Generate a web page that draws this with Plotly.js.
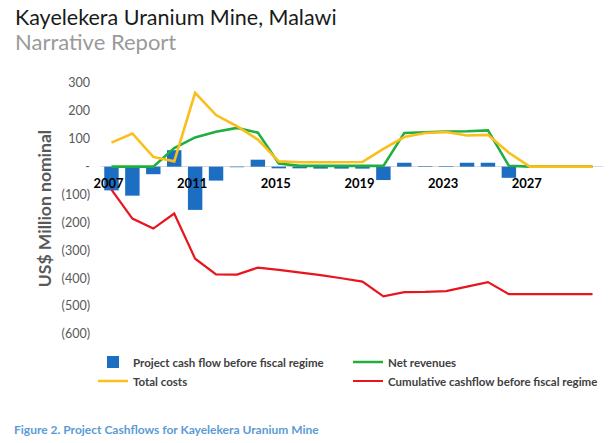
<!DOCTYPE html>
<html>
<head>
<meta charset="utf-8">
<script src="https://cdn.plot.ly/plotly-3.0.1.min.js"></script>
<style>
  html, body { margin: 0; padding: 0; background: #ffffff; }
  #chart { width: 611px; height: 443px; }
</style>
</head>
<body>
<div id="chart"></div>
<script>
// ---- Data (US$ million nominal) ----
var years = [2007, 2008, 2009, 2010, 2011, 2012, 2013, 2014, 2015, 2016, 2017, 2018,
             2019, 2020, 2021, 2022, 2023, 2024, 2025, 2026, 2027, 2028, 2029, 2030];
var projectCashFlow = [-85, -104, -27, 59, -155, -50, -2, 25, -6, -6, -7, -7,
                       -7, -48, 14, 2, 2, 14, 14, -40, 0, 0, 0, 0];
var netRevenues = [0, 0, 0, 67, 105, 125, 139, 122, 11, 3, 3, 3,
                   3, 3, 121, 124, 126, 127, 130, 3, 0, 0, 0, 0];
var totalCosts = [86, 119, 35, 19, 265, 185, 145, 97, 19, 16, 16, 16,
                  17, 64, 106, 121, 124, 112, 114, 50, 0, 0, 0, 0];
var cumulativeCashflow = [-82, -186, -222, -168, -330, -386, -387, -362, -370, -379, -389, -400,
                          -412, -465, -450, -449, -446, -430, -414, -457, -457, -457, -457, -457];
var xTickYears = [2007, 2011, 2015, 2019, 2023, 2027];
var yTickVals = [300, 200, 100, 0, -100, -200, -300, -400, -500, -600];
var yTickText = ['300', '200', '100', '-', '(100)', '(200)', '(300)', '(400)', '(500)', '(600)'];
var seriesNames = ['Project cash flow before fiscal regime', 'Net revenues', 'Total costs',
                   'Cumulative cashflow before fiscal regime'];
var chartTitle = 'Kayelekera Uranium Mine, Malawi';
var chartSubtitle = 'Narrative Report';
var caption = 'Figure 2. Project Cashflows for Kayelekera Uranium Mine';
var yTitle = 'US$ Million nominal';

// ---- Layout helpers (pixel -> paper) ----
var W = 611, H = 443;
var M = {l: 101, r: 8, t: 83, b: 109};
var pw = W - M.l - M.r, ph = H - M.t - M.b;
function px(x) { return (x - M.l) / pw; }
function py(y) { return (H - M.b - y) / ph; }

var FONT = 'Lato, "Open Sans", sans-serif';

var traces = [
  {
    type: 'bar', x: years, y: projectCashFlow, name: seriesNames[0],
    marker: {color: '#1b6ec2'}, width: 0.69, legend: 'legend'
  },
  {
    type: 'scatter', mode: 'lines', x: years, y: netRevenues, name: seriesNames[1],
    line: {color: '#1fae3f', width: 2.6}, legend: 'legend2'
  },
  {
    type: 'scatter', mode: 'lines', x: years, y: totalCosts, name: seriesNames[2],
    line: {color: '#fbbf1c', width: 2.6}, legend: 'legend'
  },
  {
    type: 'scatter', mode: 'lines', x: years, y: cumulativeCashflow, name: seriesNames[3],
    line: {color: '#e8141e', width: 2.2}, legend: 'legend2'
  }
];

var legendFont = {family: FONT, size: 11.5, color: '#404040', weight: 'bold'};

var layout = {
  width: W, height: H,
  margin: M,
  paper_bgcolor: '#ffffff', plot_bgcolor: '#ffffff',
  font: {family: FONT, color: '#404040'},
  showlegend: true,
  bargap: 0.3,
  xaxis: {
    range: [2006.5, 2030.5],
    tickmode: 'array', tickvals: xTickYears, ticktext: xTickYears.map(String),
    showgrid: false, zeroline: false, showline: false, ticks: '',
    anchor: 'free', position: 600 / 900,
    ticklabelstandoff: 7, ticklabelshift: -3,
    tickfont: {family: FONT, size: 13, color: '#000000', weight: 'bold'}
  },
  yaxis: {
    range: [-600, 300],
    tickmode: 'array', tickvals: yTickVals, ticktext: yTickText,
    showgrid: false, zeroline: true, zerolinecolor: '#d9d9d9', zerolinewidth: 1,
    showline: false, ticks: '',
    ticklabelstandoff: 10,
    tickfont: {family: FONT, size: 12.5, color: '#595959'},
    title: {text: yTitle, standoff: 5,
            font: {family: FONT, size: 17.5, color: '#595959', weight: 'bold'}}
  },
  legend: {
    orientation: 'v', x: px(93), xanchor: 'left', y: py(347.5), yanchor: 'top',
    traceorder: 'normal', font: legendFont, bgcolor: 'rgba(0,0,0,0)',
    tracegroupgap: 0, itemwidth: 30
  },
  legend2: {
    orientation: 'v', x: px(348), xanchor: 'left', y: py(347.5), yanchor: 'top',
    traceorder: 'normal', font: legendFont, bgcolor: 'rgba(0,0,0,0)',
    tracegroupgap: 0, itemwidth: 30
  },
  annotations: [
    {text: chartTitle, xref: 'paper', yref: 'paper', x: px(13), y: py(17),
     xanchor: 'left', yanchor: 'middle', showarrow: false,
     font: {family: FONT, size: 21.5, color: '#1a1a1a'}},
    {text: chartSubtitle, xref: 'paper', yref: 'paper', x: px(13), y: py(42),
     xanchor: 'left', yanchor: 'middle', showarrow: false,
     font: {family: FONT, size: 22, color: '#9a9a9a'}},
    {text: caption, xref: 'paper', yref: 'paper', x: px(12), y: py(429),
     xanchor: 'left', yanchor: 'middle', showarrow: false,
     font: {family: FONT, size: 12, color: '#5b9bd5', weight: 'bold'}}
  ]
};

Plotly.newPlot('chart', traces, layout, {displayModeBar: false, staticPlot: true});
</script>
</body>
</html>
